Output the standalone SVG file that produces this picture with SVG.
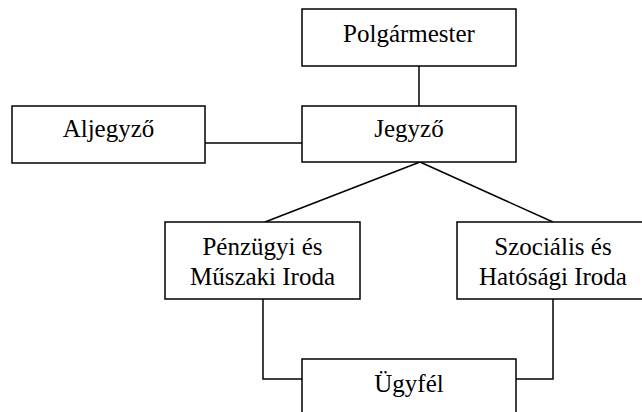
<svg xmlns="http://www.w3.org/2000/svg" width="642" height="412" viewBox="0 0 642 412">
<style>
.box{fill:#fff;stroke:#000;stroke-width:1.5}
.t{font-family:"Liberation Serif","Times New Roman",serif;font-size:25px;fill:#000;text-anchor:middle}
.c{fill:none;stroke:#000;stroke-width:1.5}
</style>
<rect width="642" height="412" fill="#fff"/>
<g id="connectors">
<line class="c" x1="419" y1="66" x2="419" y2="106"/>
<line class="c" x1="205" y1="143" x2="302" y2="143"/>
<line class="c" x1="420" y1="162" x2="265" y2="222"/>
<line class="c" x1="420" y1="162" x2="553" y2="222"/>
<polyline class="c" points="263,299 263,379 302,379"/>
<polyline class="c" points="553,299 553,379 516,379"/>
</g>
<g id="polgarmester">
<rect class="box" x="302" y="9" width="214" height="57"/>
<text class="t" x="409" y="42">Polgármester</text>
</g>
<g id="jegyzo">
<rect class="box" x="302" y="106" width="214" height="56"/>
<text class="t" x="409" y="137">Jegyző</text>
</g>
<g id="aljegyzo">
<rect class="box" x="12" y="106" width="193" height="57"/>
<text class="t" x="108.5" y="137">Aljegyző</text>
</g>
<g id="penzugyi">
<rect class="box" x="165" y="222" width="195" height="77"/>
<text class="t" x="262.5" y="255">Pénzügyi és</text>
<text class="t" x="262.5" y="285">Műszaki Iroda</text>
</g>
<g id="szocialis">
<rect class="box" x="457" y="222" width="195" height="77"/>
<text class="t" x="553" y="255">Szociális és</text>
<text class="t" x="553" y="285">Hatósági Iroda</text>
</g>
<g id="ugyfel">
<rect class="box" x="302" y="359" width="214" height="70"/>
<text class="t" x="409" y="392">Ügyfél</text>
</g>
</svg>
